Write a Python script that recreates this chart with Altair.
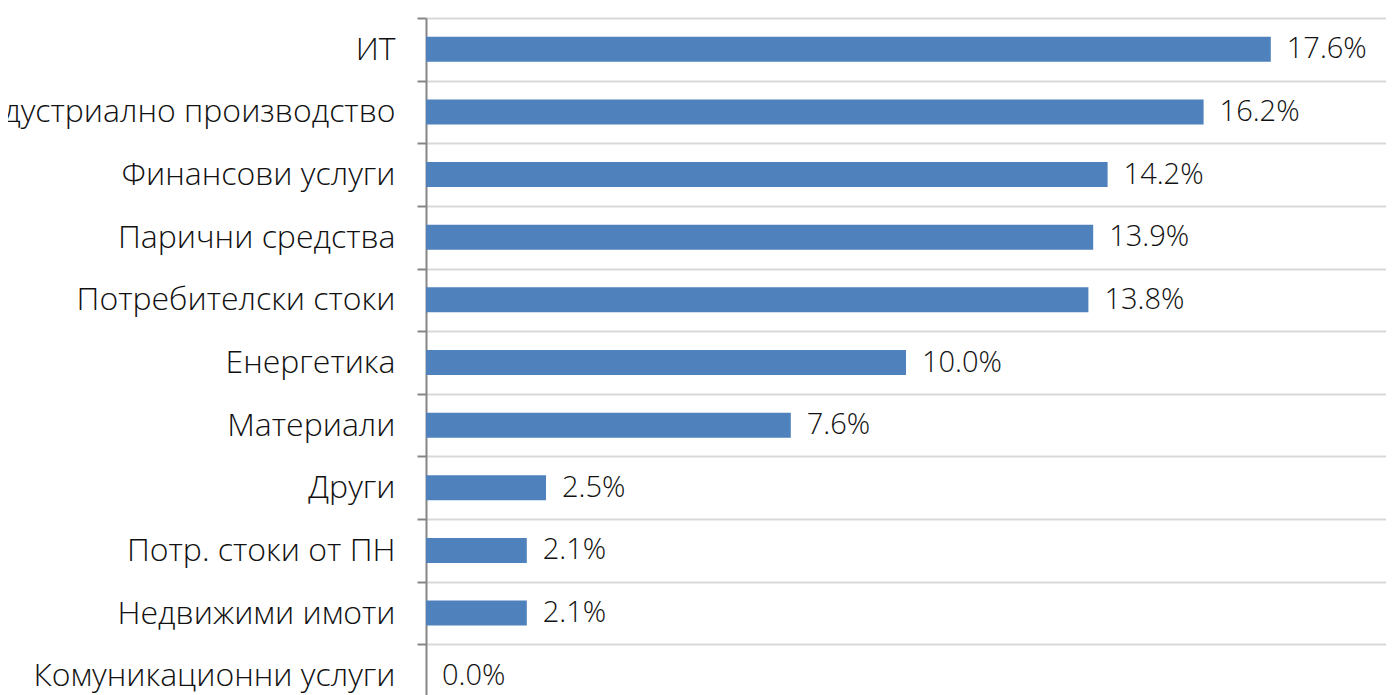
import altair as alt
import pandas as pd

# sector weights, top to bottom
sectors = [
    'ИТ',
    'Индустриално производство',
    'Финансови услуги',
    'Парични средства',
    'Потребителски стоки',
    'Енергетика',
    'Материали',
    'Други',
    'Потр. стоки от ПН',
    'Недвижими имоти',
    'Комуникационни услуги',
]
weights = [17.6, 16.2, 14.2, 13.9, 13.8, 10.0, 7.6, 2.5, 2.1, 2.1, 0.0]

df = pd.DataFrame({'sector': sectors, 'weight': weights})

FONT = 'Open Sans'

y_enc = alt.Y(
    'sector:N',
    sort=sectors,
    title=None,
    scale=alt.Scale(range=[0, 689], paddingInner=0, paddingOuter=0),
    axis=alt.Axis(
        tickBand='extent',
        grid=True,
        gridColor='#d9d9d9',
        gridWidth=2,
        domainColor='#868686',
        domainWidth=2,
        tickColor='#868686',
        tickWidth=2,
        tickSize=9,
        labelPadding=22,
        labelFont=FONT,
        labelFontSize=32,
        labelFontWeight=300,
        labelColor='#111111',
        labelLimit=1000,
    ),
)
x_enc = alt.X('weight:Q', scale=alt.Scale(domain=[0, 20]), axis=None)

bars = alt.Chart(df).mark_bar(color='#4f81bd', size=25).encode(x=x_enc, y=y_enc)

labels = alt.Chart(df).transform_calculate(
    label="format(datum.weight, '.1f') + '%'"
).mark_text(
    align='left', baseline='middle', dx=16, font=FONT, fontSize=29,
    fontWeight=300, color='#111111'
).encode(x=x_enc, y=alt.Y('sector:N', sort=sectors), text='label:N')

chart = alt.layer(bars, labels).properties(
    width=960,
    height=677,
    autosize=alt.AutoSizeParams(type='none'),
    padding={'left': 418, 'top': 10, 'right': 0, 'bottom': 0},
).configure_view(stroke=None)

chart.save('out.html', embed_options={'renderer': 'svg', 'actions': False})
